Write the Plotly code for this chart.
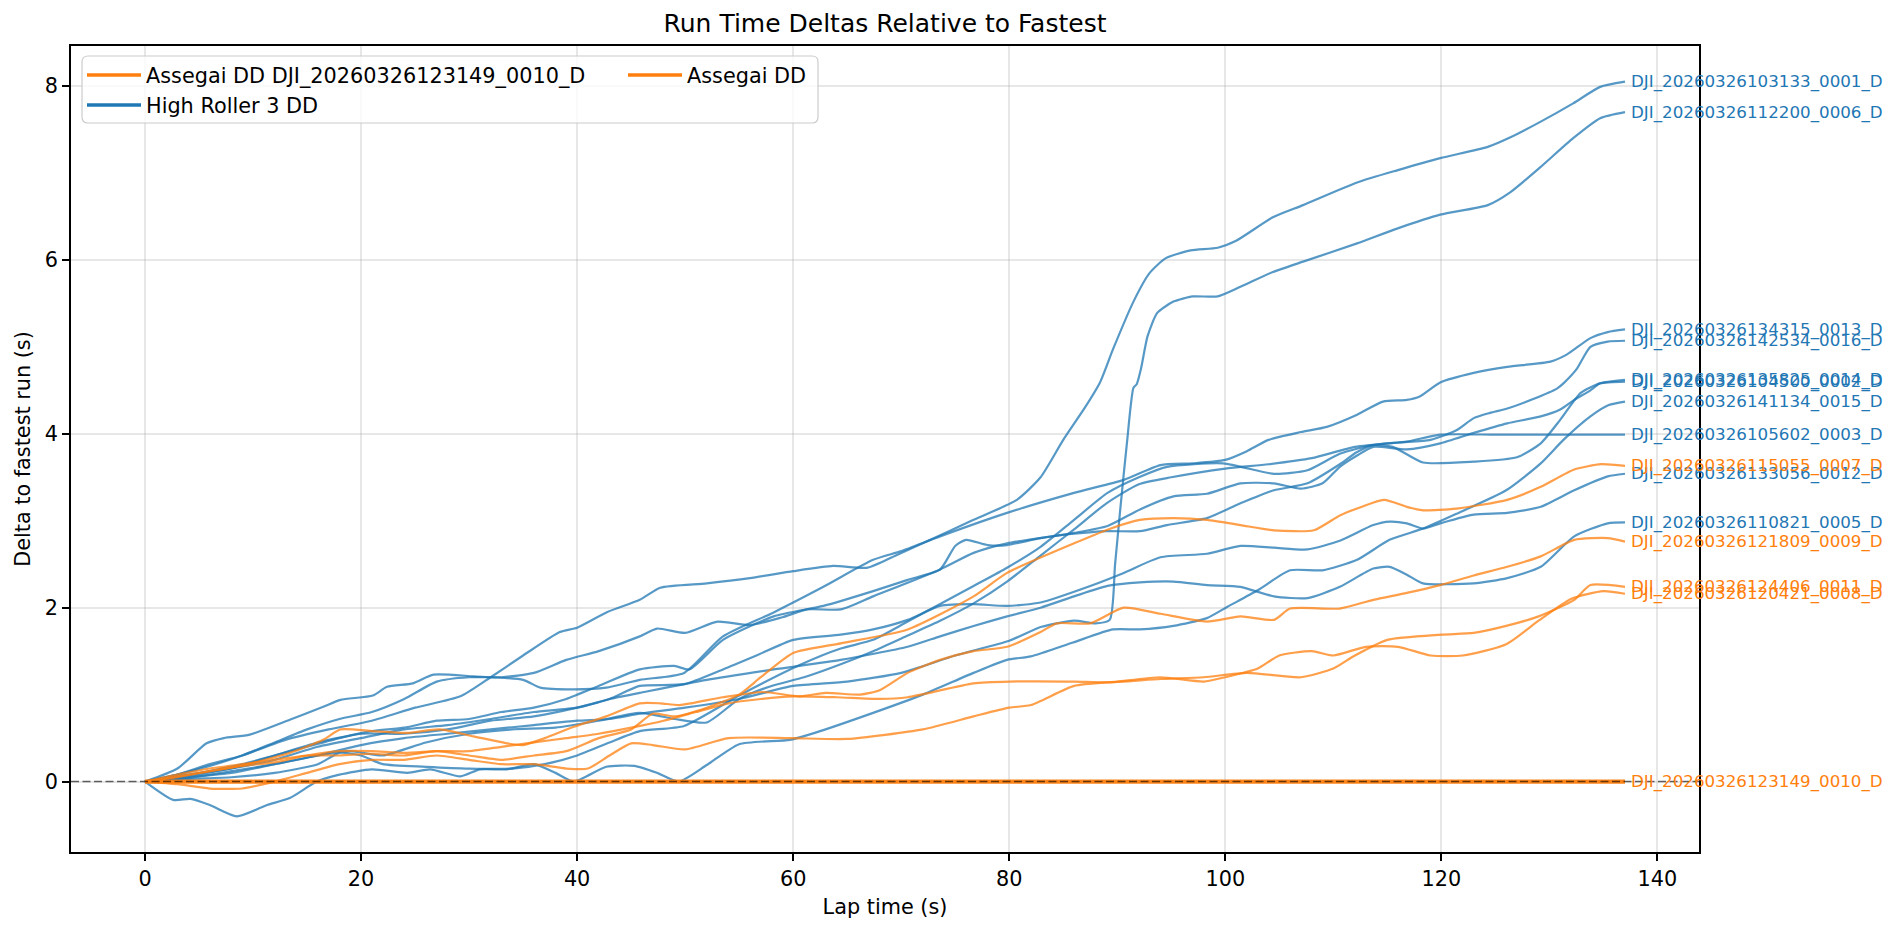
import plotly.graph_objects as go

BLUE = "#1f77b4"
ORANGE = "#ff7f0e"
FONT = "DejaVu Sans"

# ---------------- data ----------------
x_0001 = [0, 3, 6, 9, 13, 17, 21, 25, 29.2, 32, 35, 38.4, 40, 42.8, 45.8, 47.7, 52, 56, 60, 63.7, 66.9, 69.5, 72.7, 76.5, 80.7, 82.9, 85, 87, 88.4, 89.6, 91.5, 93, 94.5, 96.8, 99.3, 101, 104.4, 107.2, 112.2, 115.9, 119.9, 124.3, 126.4, 129.2, 132.2, 134.7, 137]
y_0001 = [0, 0.08, 0.2, 0.3, 0.48, 0.6, 0.7, 0.85, 0.98, 1.2, 1.45, 1.72, 1.77, 1.95, 2.09, 2.23, 2.28, 2.34, 2.42, 2.48, 2.46, 2.6, 2.78, 3.0, 3.24, 3.5, 3.93, 4.3, 4.59, 4.97, 5.52, 5.85, 6.02, 6.11, 6.14, 6.22, 6.49, 6.63, 6.89, 7.03, 7.17, 7.30, 7.41, 7.59, 7.8, 7.99, 8.05]

x_0006 = [0, 4, 8, 12, 16, 20, 24, 28, 32, 36, 40, 43, 45.8, 50, 55, 60, 65, 70, 75, 80, 83, 86, 88, 89.3, 89.8, 90.3, 90.9, 91.5, 91.8, 92.2, 92.8, 93.7, 95.2, 97, 99.3, 101.4, 104.4, 107.2, 112.2, 115.9, 119.9, 124.3, 126.4, 129.2, 132.2, 134.7, 137]
y_0006 = [0, 0.05, 0.1, 0.2, 0.3, 0.42, 0.5, 0.55, 0.6, 0.65, 0.7, 0.72, 0.78, 0.85, 0.95, 1.1, 1.15, 1.25, 1.45, 1.62, 1.78, 1.85, 1.82, 1.86, 2.5, 3.16, 3.9, 4.53, 4.57, 4.75, 5.12, 5.39, 5.52, 5.58, 5.58, 5.69, 5.86, 5.98, 6.19, 6.36, 6.52, 6.63, 6.78, 7.07, 7.4, 7.63, 7.70]

x_0013 = [0, 3, 5.7, 7.3, 9.7, 13.4, 16.5, 18.1, 21.1, 22.4, 24.8, 26.7, 30.4, 35, 36.6, 39.7, 42.7, 45.8, 49.9, 53.5, 58.1, 62.8, 67.4, 70, 73.6, 79.8, 86, 90.6, 94, 97, 100, 102, 104, 107, 109.4, 112.2, 114.6, 116.8, 118, 119.9, 123, 126.1, 130.1, 131.6, 133.8, 135.4, 137]
y_0013 = [0, 0.15, 0.44, 0.5, 0.54, 0.71, 0.86, 0.94, 0.99, 1.09, 1.13, 1.23, 1.21, 1.17, 1.08, 1.06, 1.08, 1.17, 1.25, 1.67, 1.94, 2.24, 2.55, 2.65, 2.82, 3.09, 3.32, 3.47, 3.64, 3.66, 3.7, 3.8, 3.93, 4.02, 4.08, 4.22, 4.37, 4.39, 4.43, 4.59, 4.70, 4.77, 4.83, 4.91, 5.10, 5.17, 5.20]

x_0016 = [0, 4, 8, 12, 16, 19, 22, 26, 30, 34, 38, 42, 45.8, 49, 52, 55, 58, 61, 64.4, 67.4, 70.6, 73.6, 76.7, 79.8, 82.9, 86, 89, 92, 95, 100, 104, 108, 112, 116, 119, 121.4, 123, 124.5, 126.1, 128.5, 130.7, 131.3, 132.5, 133.8, 135.4, 137]
y_0016 = [0, 0.04, 0.12, 0.2, 0.3, 0.35, 0.3, 0.45, 0.55, 0.6, 0.62, 0.7, 0.79, 0.72, 0.68, 0.95, 1.1, 1.2, 1.35, 1.5, 1.68, 1.85, 2.05, 2.3, 2.6, 2.9, 3.2, 3.42, 3.5, 3.6, 3.65, 3.72, 3.85, 3.9, 3.93, 4.04, 4.18, 4.24, 4.29, 4.4, 4.52, 4.58, 4.74, 5.0, 5.06, 5.07]

x_0014 = [0, 3, 6, 9, 12, 15, 18, 21, 24, 27, 30, 33, 36, 39, 42, 45.8, 47.4, 50, 53, 56, 59, 61.3, 64.4, 67.4, 73.6, 76.7, 79.8, 86, 89.1, 92.1, 95.2, 98.3, 101.4, 104.5, 107, 109, 110.6, 112.2, 113.7, 116.8, 119.9, 123, 126.1, 129.2, 131, 132.3, 133.8, 134.7, 137]
y_0014 = [0, 0.08, 0.18, 0.3, 0.45, 0.6, 0.72, 0.8, 0.95, 1.15, 1.2, 1.2, 1.25, 1.4, 1.5, 1.67, 1.76, 1.71, 1.84, 1.80, 1.89, 1.98, 1.98, 2.13, 2.44, 2.63, 2.74, 2.86, 2.94, 3.13, 3.28, 3.31, 3.43, 3.43, 3.37, 3.43, 3.62, 3.75, 3.85, 3.82, 3.89, 4.01, 4.12, 4.2, 4.28, 4.39, 4.5, 4.58, 4.62]

x_0002 = [0, 4, 8, 12, 16, 18, 20, 22, 26, 30, 34, 37, 40, 43, 45.8, 49.9, 55, 60.6, 64.4, 67.4, 70.6, 76.7, 79.8, 82.9, 86, 89.1, 92, 94.6, 99.8, 104.5, 107.6, 110.6, 113.7, 115.5, 118.3, 123, 127, 129.2, 131, 132.9, 134.7, 137]
y_0002 = [0, 0.03, 0.05, 0.1, 0.2, 0.33, 0.3, 0.2, 0.17, 0.15, 0.15, 0.2, 0.3, 0.45, 0.58, 0.64, 0.99, 1.34, 1.53, 1.63, 1.84, 2.25, 2.46, 2.7, 3.01, 3.32, 3.5, 3.62, 3.66, 3.54, 3.58, 3.77, 3.87, 3.85, 3.67, 3.68, 3.73, 3.89, 4.16, 4.47, 4.58, 4.60]

x_0015 = [0, 2.6, 4.2, 6, 8.5, 11.3, 13.4, 15.9, 18, 21, 24.3, 26.4, 29.2, 31, 33.5, 36, 38, 39.7, 42.7, 45.3, 47.4, 49.4, 52, 55, 59.7, 62, 67.4, 72, 76.7, 79.8, 82, 85.9, 89.6, 92.1, 95.2, 98.3, 100.2, 103, 106, 109, 112.2, 115.2, 118.3, 121.4, 126, 129.2, 131.3, 133.8, 135.5, 137]
y_0015 = [0, -0.21, -0.2, -0.27, -0.4, -0.27, -0.19, 0, 0.08, 0.14, 0.1, 0.14, 0.06, 0.14, 0.14, 0.2, 0.1, 0, 0.17, 0.18, 0.1, 0, 0.19, 0.43, 0.48, 0.56, 0.79, 1.0, 1.25, 1.4, 1.44, 1.6, 1.75, 1.75, 1.79, 1.88, 2.01, 2.2, 2.43, 2.43, 2.55, 2.78, 2.91, 3.08, 3.35, 3.66, 3.93, 4.2, 4.33, 4.37]

x_0003 = [0, 3, 6, 9, 12, 15, 18, 21, 24, 27, 30, 33, 36, 39, 42, 45.8, 49, 50.4, 53.5, 58.2, 62.8, 67.4, 70.6, 73.6, 75, 76, 78, 79.8, 82.9, 86, 89, 92.1, 94.6, 98.3, 101.4, 104.5, 107.6, 110.6, 112.2, 113.7, 116.8, 119.9, 125, 130, 137]
y_0003 = [0, 0.05, 0.12, 0.2, 0.3, 0.4, 0.5, 0.58, 0.62, 0.7, 0.72, 0.8, 0.85, 0.95, 1.1, 1.29, 1.33, 1.29, 1.63, 1.9, 2.02, 2.19, 2.32, 2.44, 2.71, 2.78, 2.72, 2.72, 2.8, 2.85, 2.88, 2.88, 2.95, 3.03, 3.2, 3.35, 3.43, 3.65, 3.79, 3.87, 3.91, 3.99, 3.99, 3.99, 3.99]

x_0012 = [0, 4, 8, 12, 16, 20, 24, 28, 32, 36, 40, 43, 45.8, 49.9, 53.5, 56.6, 60, 64.4, 67.4, 70.6, 73.6, 76.7, 79.8, 82.9, 87.5, 90.6, 94, 98.3, 101.4, 104.5, 107.6, 110.6, 113.7, 115.2, 116.8, 118.3, 119.9, 123, 126.1, 129.2, 132.3, 135.4, 137]
y_0012 = [0, 0.08, 0.15, 0.3, 0.45, 0.55, 0.55, 0.6, 0.7, 0.75, 0.85, 0.95, 1.10, 1.12, 1.29, 1.45, 1.63, 1.69, 1.75, 1.86, 2.02, 2.04, 2.02, 2.06, 2.25, 2.4, 2.58, 2.62, 2.71, 2.69, 2.67, 2.77, 2.95, 2.99, 2.97, 2.91, 2.97, 3.07, 3.09, 3.16, 3.35, 3.51, 3.54]

x_0005 = [0, 4, 8, 12, 16, 20, 24, 28, 32, 36, 40, 43, 45.8, 52, 58.2, 64.4, 70.6, 73.6, 76.7, 79.8, 82.9, 86, 89.1, 92.1, 95.2, 98.3, 101.4, 104.5, 107.6, 110.6, 113.7, 115.2, 116.8, 118.3, 123, 126.1, 129.2, 132.3, 135.4, 137]
y_0005 = [0, 0.06, 0.15, 0.25, 0.4, 0.5, 0.6, 0.65, 0.72, 0.8, 0.85, 0.95, 1.02, 1.17, 1.29, 1.4, 1.55, 1.67, 1.79, 1.9, 2.0, 2.13, 2.25, 2.29, 2.3, 2.26, 2.24, 2.13, 2.11, 2.24, 2.45, 2.47, 2.38, 2.28, 2.28, 2.34, 2.47, 2.82, 2.97, 2.98]

x_0007 = [0, 3, 6, 9, 12, 15, 18, 21, 24, 27, 30, 33, 36, 39, 42, 45, 47, 49, 52, 55, 57, 60, 64.4, 70.6, 76.7, 79.8, 86, 89.6, 92.1, 95.2, 98.3, 101.4, 104.5, 108.2, 110.6, 112.2, 114.7, 116.8, 118.3, 121.4, 126.1, 129.2, 132.3, 134.8, 137]
y_0007 = [0, 0.08, 0.15, 0.2, 0.25, 0.3, 0.3, 0.32, 0.3, 0.35, 0.3, 0.25, 0.3, 0.35, 0.5, 0.6, 0.78, 0.75, 0.85, 1.0, 1.2, 1.48, 1.59, 1.75, 2.13, 2.4, 2.74, 2.92, 3.01, 3.03, 3.01, 2.95, 2.89, 2.89, 3.06, 3.14, 3.24, 3.16, 3.12, 3.14, 3.24, 3.39, 3.59, 3.65, 3.63]

x_0009 = [0, 3, 6, 8.8, 13.4, 16.5, 18.1, 21.1, 24.2, 27.3, 30.4, 33.5, 35, 37, 39.7, 42.7, 45.8, 47.7, 49.5, 53.5, 57.2, 60.6, 63, 66.2, 68, 70.6, 73.6, 76.7, 79.8, 82.9, 84.4, 87.5, 90.6, 94, 98.3, 101.4, 104.5, 106, 110.6, 113.7, 116.8, 119.9, 123, 126.1, 129.2, 132.3, 135.4, 137]
y_0009 = [0, 0.06, 0.12, 0.18, 0.33, 0.48, 0.6, 0.58, 0.56, 0.6, 0.52, 0.44, 0.42, 0.5, 0.63, 0.75, 0.9, 0.9, 0.88, 0.97, 1.03, 0.98, 1.02, 1.0, 1.05, 1.25, 1.4, 1.5, 1.55, 1.72, 1.82, 1.82, 2.0, 1.93, 1.84, 1.9, 1.86, 1.99, 1.99, 2.09, 2.17, 2.26, 2.37, 2.47, 2.59, 2.78, 2.8, 2.76]

x_0011 = [0, 3, 6, 9, 12, 15, 18, 21, 24, 27, 30, 33, 36, 39, 42, 45, 48, 51, 54, 57, 60, 64, 68, 70.6, 76.7, 80, 86, 89, 94, 98, 102, 107, 110, 112, 115, 120, 123, 126, 129, 132.3, 133.8, 137]
y_0011 = [0, 0.05, 0.12, 0.18, 0.22, 0.3, 0.35, 0.35, 0.33, 0.35, 0.35, 0.4, 0.45, 0.5, 0.55, 0.62, 0.7, 0.8, 0.9, 0.95, 0.98, 0.97, 0.95, 0.97, 1.13, 1.15, 1.15, 1.14, 1.18, 1.2, 1.25, 1.2, 1.3, 1.45, 1.63, 1.69, 1.71, 1.79, 1.9, 2.09, 2.26, 2.24]

x_0008 = [0, 3, 6, 9, 12, 15, 18, 21, 24, 27, 30, 33, 36, 39, 41, 43, 45, 47, 50, 54, 59.7, 65, 72, 76.7, 80, 82, 86, 90, 94, 98, 100, 103, 105, 108, 110, 113, 116, 119, 122, 126, 129, 132, 135, 137]
y_0008 = [0, -0.03, -0.08, -0.08, 0.0, 0.1, 0.2, 0.25, 0.25, 0.3, 0.25, 0.2, 0.2, 0.15, 0.15, 0.3, 0.44, 0.42, 0.37, 0.5, 0.5, 0.49, 0.6, 0.75, 0.85, 0.88, 1.1, 1.15, 1.2, 1.15, 1.2, 1.3, 1.45, 1.5, 1.45, 1.55, 1.55, 1.45, 1.45, 1.58, 1.85, 2.1, 2.19, 2.16]

x_0010 = [0, 137]
y_0010 = [0, 0]

run_names = {
    "0001": "DJI_20260326103133_0001_D",
    "0002": "DJI_20260326104500_0002_D",
    "0003": "DJI_20260326105602_0003_D",
    "0005": "DJI_20260326110821_0005_D",
    "0006": "DJI_20260326112200_0006_D",
    "0007": "DJI_20260326115055_0007_D",
    "0008": "DJI_20260326120421_0008_D",
    "0009": "DJI_20260326121809_0009_D",
    "0010": "DJI_20260326123149_0010_D",
    "0011": "DJI_20260326124406_0011_D",
    "0012": "DJI_20260326133056_0012_D",
    "0013": "DJI_20260326134315_0013_D",
    "0014": "DJI_20260326135825_0014_D",
    "0015": "DJI_20260326141134_0015_D",
    "0016": "DJI_20260326142534_0016_D",
}

high_roller = ["0001", "0002", "0003", "0005", "0006", "0012", "0013", "0014", "0015", "0016"]
assegai = ["0007", "0008", "0009", "0011"]
fastest = "0010"

data = {
    "0001": (x_0001, y_0001), "0002": (x_0002, y_0002), "0003": (x_0003, y_0003),
    "0005": (x_0005, y_0005), "0006": (x_0006, y_0006), "0007": (x_0007, y_0007),
    "0008": (x_0008, y_0008), "0009": (x_0009, y_0009), "0010": (x_0010, y_0010),
    "0011": (x_0011, y_0011), "0012": (x_0012, y_0012), "0013": (x_0013, y_0013),
    "0014": (x_0014, y_0014), "0015": (x_0015, y_0015), "0016": (x_0016, y_0016),
}

x_ticks = [0, 20, 40, 60, 80, 100, 120, 140]
y_ticks = [0, 2, 4, 6, 8]
x_range = [-6.85, 143.85]
y_range = [-0.81, 8.46]

# ---------------- layout geometry (pixels) ----------------
W, H = 1895, 932
L, R, T, B = 71, 196, 46, 80
PW, PH = W - L - R, H - T - B


def px_x(p):
    return (p - L) / PW


def px_y(p):
    return (H - B - p) / PH


fig = go.Figure()

order = ["0001", "0006", "0013", "0016", "0014", "0002", "0015", "0003", "0012", "0005",
         "0007", "0009", "0011", "0008"]
for key in order:
    xs, ys = data[key]
    col = BLUE if key in high_roller else ORANGE
    fig.add_trace(go.Scatter(
        x=xs, y=ys, mode="lines",
        line=dict(color=col, width=2.2, shape="spline", smoothing=0.6),
        opacity=0.75, showlegend=False, hoverinfo="skip"))

# fastest run
xs, ys = data[fastest]
fig.add_trace(go.Scatter(x=xs, y=ys, mode="lines", line=dict(color=ORANGE, width=4.2),
                         opacity=0.95, showlegend=False, hoverinfo="skip"))

# legend entries
fig.add_trace(go.Scatter(x=[None], y=[None], mode="lines", name="Assegai DD " + run_names[fastest],
                         line=dict(color=ORANGE, width=3.5), legend="legend"))
fig.add_trace(go.Scatter(x=[None], y=[None], mode="lines", name="High Roller 3 DD",
                         line=dict(color=BLUE, width=3.5), legend="legend"))
fig.add_trace(go.Scatter(x=[None], y=[None], mode="lines", name="Assegai DD",
                         line=dict(color=ORANGE, width=3.5), legend="legend2"))

# end-of-line labels
for key in order + [fastest]:
    xs, ys = data[key]
    col = BLUE if key in high_roller else ORANGE
    fig.add_annotation(x=xs[-1] + 0.35, y=ys[-1], text=run_names[key], xref="x", yref="y",
                       xanchor="left", yanchor="middle", showarrow=False,
                       font=dict(family=FONT, size=16.7, color=col))

# dashed zero line and legend frame
x0, x1 = px_x(82), px_x(818)
y0, y1 = px_y(123), px_y(56)
rx, ry = 6 / PW, 6 / PH
frame = (f"M {x0+rx},{y0} L {x1-rx},{y0} Q {x1},{y0} {x1},{y0+ry} L {x1},{y1-ry} "
         f"Q {x1},{y1} {x1-rx},{y1} L {x0+rx},{y1} Q {x0},{y1} {x0},{y1-ry} "
         f"L {x0},{y0+ry} Q {x0},{y0} {x0+rx},{y0} Z")
fig.update_layout(shapes=[
    dict(type="line", xref="paper", yref="y", x0=0, x1=1, y0=0, y1=0, layer="above",
         line=dict(color="rgba(0,0,0,0.6)", width=1.5, dash="8px,3.5px")),
    dict(type="path", xref="paper", yref="paper", path=frame, layer="above",
         fillcolor="rgba(255,255,255,0.8)", line=dict(color="#cccccc", width=1.2)),
])

axis_common = dict(showline=True, linecolor="black", linewidth=1.6, mirror=True,
                   ticks="outside", ticklen=7, tickwidth=1.6, tickcolor="black",
                   showgrid=True, gridcolor="rgba(176,176,176,0.3)", gridwidth=1.6,
                   zeroline=False, tickfont=dict(family=FONT, size=20.8, color="black"))

fig.update_layout(
    width=W, height=H,
    margin=dict(l=L, r=R, t=T, b=B, autoexpand=False),
    paper_bgcolor="white", plot_bgcolor="white",
    font=dict(family=FONT, color="black"),
    title=dict(text="Run Time Deltas Relative to Fastest", x=0.5, xref="paper", xanchor="center",
               y=1 - 23 / H, yref="container", yanchor="middle",
               font=dict(family=FONT, size=25, color="black")),
    xaxis=dict(range=x_range, tickvals=x_ticks, title=dict(text="Lap time (s)", standoff=10,
               font=dict(family=FONT, size=20.8)), **axis_common),
    yaxis=dict(range=y_range, tickvals=y_ticks, title=dict(text="Delta to fastest run (s)", standoff=9,
               font=dict(family=FONT, size=20.8)), **axis_common),
    legend=dict(x=px_x(82), y=px_y(55), xanchor="left", yanchor="top", bgcolor="rgba(0,0,0,0)",
                borderwidth=0, itemwidth=54, font=dict(family=FONT, size=20.8, color="black"),
                tracegroupgap=0),
    legend2=dict(x=px_x(623), y=px_y(55), xanchor="left", yanchor="top", bgcolor="rgba(0,0,0,0)",
                 borderwidth=0, itemwidth=54, font=dict(family=FONT, size=20.8, color="black")),
    hovermode=False,
)

fig.write_html("out.html")
